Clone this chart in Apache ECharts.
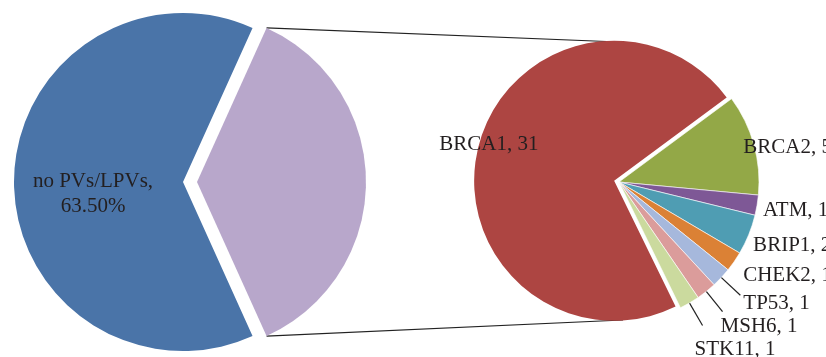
<!DOCTYPE html>
<html>
<head>
<meta charset="utf-8">
<script src="https://cdn.jsdelivr.net/npm/echarts@6/dist/echarts.min.js"></script>
<style>
    html, body { margin: 0; padding: 0; background: #fff; }
    #chart { width: 826px; height: 357px; }
</style>
</head>
<body>
<div id="chart"></div>
<script>
// main pie: share of patients (%)
const groupNames = ['PVs/LPVs', 'no PVs/LPVs'];
const groupShares = [36.5, 63.5];

// secondary pie: genes among carriers (counts)
const geneNames = ['BRCA2', 'ATM', 'BRIP1', 'CHEK2', 'TP53', 'MSH6', 'STK11', 'BRCA1'];
const geneCounts = [5, 1, 2, 1, 1, 1, 1, 31];

// layout
const leftCenter = [183, 182], leftR = 169, leftExplode = 14;
const rightCenter = [619, 182], rightR = 140, rightExplode = 5;
const leftStart = groupShares[0] / 100 * 180;   // carriers slice centred on 3 o'clock
const rightStart = 36.5;
const explodedGene = 'BRCA1';

const groupColors = ['#B8A7CB', '#4A74A8'];
const geneColors = ['#93A847', '#7E5896', '#4F9DB3', '#DB8135', '#A6B8DC', '#DB9C9B', '#CBDA9E', '#AD4542'];
// label placement: distance along bisector (+ nudge), or leader line [from, to] + text offset
const geneLabelPos = [
    { r: 129, off: [0, 0], align: 'left' },
    { r: 146, off: [0, 4], align: 'left' },
    { r: 148, off: [-3, 8], align: 'left' },
    { r: 151, off: [0, 8], align: 'left' },
    { line: [135, 166], off: [3, 8] },
    { line: [135, 166], off: [-2, 15] },
    { line: [135, 166], off: [-8, 24] },
    { r: 130, off: [1, -5], align: 'center' }
];
const font = 'Liberation Serif';
const fontSize = 21;
const textColor = '#231F20';

function midAngle(values, start, i) {
    let total = 0, cum = 0;
    values.forEach(function (v, k) { total += v; if (k < i) cum += v; });
    return start - (cum + values[i] / 2) / total * 360;
}

function polar(c, r, deg) {
    const a = deg * Math.PI / 180;
    return [c[0] + r * Math.cos(a), c[1] - r * Math.sin(a)];
}

let myChart = echarts.init(document.querySelector('#chart'));

// exploded BRCA1 slice gets its own shifted centre
const explodedIdx = geneNames.indexOf(explodedGene);
const explodedCenter = polar(rightCenter, rightExplode, midAngle(geneCounts, rightStart, explodedIdx));

// connector lines from carriers slice to the gene pie
const purpleCenter = polar(leftCenter, leftExplode, midAngle(groupShares, leftStart, 0));
const pTop = polar(purpleCenter, leftR, leftStart);
const pBottom = polar(purpleCenter, leftR, -leftStart);
const rTop = [rightCenter[0], rightCenter[1] - rightR];
const rBottom = [rightCenter[0] + 4, rightCenter[1] + rightR - 2];

function geneLabelLayout(center) {
    return function (p) {
        const i = p.dataIndex;
        const ang = midAngle(geneCounts, rightStart, i);
        const s = geneLabelPos[i];
        if (s.line) {
            const p0 = polar(center, s.line[0], ang);
            const p1 = polar(center, s.line[1], ang);
            return {
                x: p1[0] + s.off[0], y: p1[1] + s.off[1],
                align: 'left', verticalAlign: 'middle',
                labelLinePoints: [p0, p1, p1]
            };
        }
        const pt = polar(center, s.r, ang);
        return { x: pt[0] + s.off[0], y: pt[1] + s.off[1], align: s.align, verticalAlign: 'middle' };
    };
}

// one layer draws only the exploded slice, the other the rest
function geneSeries(center, showExploded) {
    return {
        type: 'pie',
        center: center,
        radius: rightR,
        startAngle: rightStart,
        avoidLabelOverlap: false,
        silent: true,
        labelLine: { show: false, lineStyle: { color: '#222', width: 1.2 } },
        label: {
            show: true,
            position: 'outside',
            fontFamily: font,
            fontSize: fontSize,
            color: textColor,
            formatter: '{b}, {c}'
        },
        labelLayout: geneLabelLayout(center),
        data: geneNames.map(function (n, i) {
            const visible = (i === explodedIdx) === showExploded;
            return {
                name: n,
                value: geneCounts[i],
                itemStyle: visible
                    ? { color: geneColors[i], borderColor: '#fff', borderWidth: showExploded ? 0 : 0.6 }
                    : { color: 'rgba(0,0,0,0)', borderWidth: 0 },
                label: { show: visible },
                labelLine: { show: visible && !!geneLabelPos[i].line }
            };
        })
    };
}

let option = {
    backgroundColor: '#fff',
    animation: false,
    graphic: [
        { type: 'line', z: 0, shape: { x1: pTop[0], y1: pTop[1], x2: rTop[0], y2: rTop[1] }, style: { stroke: '#222', lineWidth: 1.2 } },
        { type: 'line', z: 0, shape: { x1: pBottom[0], y1: pBottom[1], x2: rBottom[0], y2: rBottom[1] }, style: { stroke: '#222', lineWidth: 1.2 } }
    ],
    series: [{
        type: 'pie',
        center: leftCenter,
        radius: leftR,
        startAngle: leftStart,
        selectedMode: 'single',
        selectedOffset: leftExplode,
        avoidLabelOverlap: false,
        silent: true,
        itemStyle: { borderWidth: 0 },
        select: { itemStyle: { borderWidth: 0 } },
        labelLine: { show: false },
        label: {
            show: true,
            position: 'inside',
            fontFamily: font,
            fontSize: fontSize,
            lineHeight: 25,
            color: textColor,
            formatter: function (p) {
                return p.dataIndex === 1 ? p.name + ',\n' + p.value.toFixed(2) + '%' : '';
            }
        },
        labelLayout: function (p) {
            const pt = polar(leftCenter, 90, midAngle(groupShares, leftStart, p.dataIndex));
            return { x: pt[0], y: pt[1] + 12, align: 'center', verticalAlign: 'middle' };
        },
        data: groupNames.map(function (n, i) {
            return { name: n, value: groupShares[i], selected: i === 0, itemStyle: { color: groupColors[i] } };
        })
    },
    geneSeries(explodedCenter, true),
    geneSeries(rightCenter, false)
    ]
};

myChart.setOption(option);
</script>
</body>
</html>
